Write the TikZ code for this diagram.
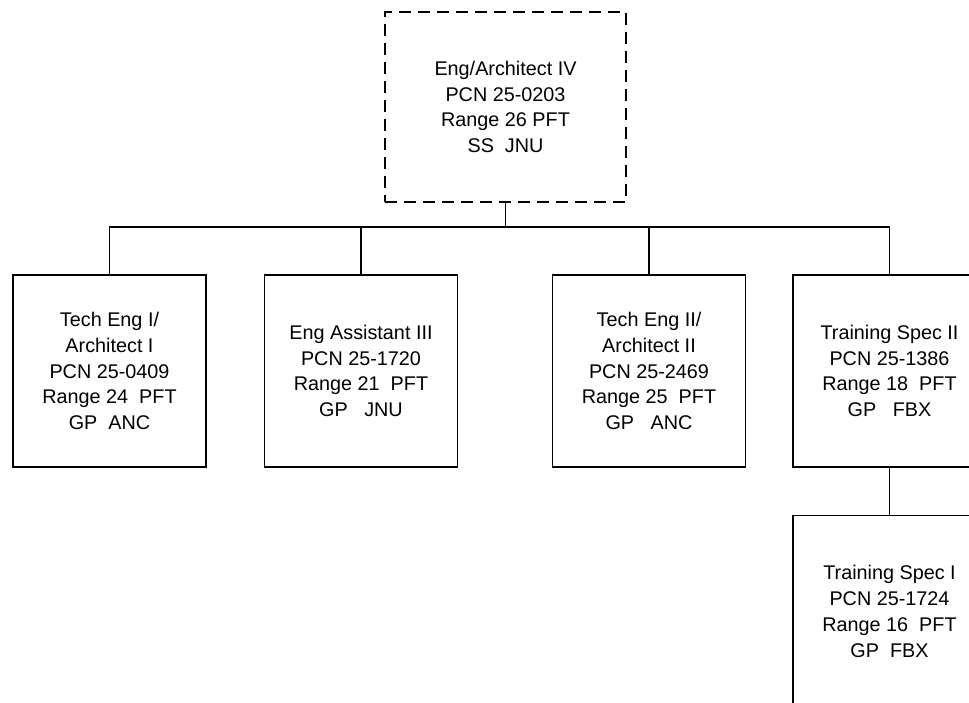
\documentclass[tikz,border=0pt]{standalone}
\usepackage{fontspec}
\setmainfont{Liberation Sans}
\begin{document}
\begin{tikzpicture}[x=1pt,y=-1pt,
  posbox/.style={draw=black, line width=1.9pt, rectangle, align=center,
    minimum width=193pt, minimum height=192pt, inner sep=0pt,
    font=\fontsize{19.8}{25.8}\selectfont},
  headbox/.style={posbox, dashed, dash pattern=on 12pt off 7pt,
    minimum width=241pt, minimum height=190pt},
  link/.style={draw=black, line width=1.9pt}]
\useasboundingbox (0,0) rectangle (969,703);
\clip (0,0) rectangle (969,703);
\node[headbox] (top) at (505.5,107) {Eng/Architect IV\\PCN 25-0203\\Range 26 PFT\\SS~~JNU};
\node[posbox] (b1) at (109.5,371) {Tech Eng I/\\Architect I\\PCN 25-0409\\Range 24~~PFT\\GP~~ANC};
\node[posbox] (b2) at (361,371) {Eng Assistant III\\PCN 25-1720\\Range 21~~PFT\\GP~~~JNU};
\node[posbox] (b3) at (649,371) {Tech Eng II/\\Architect II\\PCN 25-2469\\Range 25~~PFT\\GP~~~ANC};
\node[posbox] (b4) at (889.5,371) {Training Spec II\\PCN 25-1386\\Range 18~~PFT\\GP~~~FBX};
\node[posbox] (b5) at (889.5,611.5) {Training Spec I\\PCN 25-1724\\Range 16~~PFT\\GP~~FBX};
\coordinate (bus) at (505.5,227);
\draw[link] (top.south) -- (bus);
\foreach \n in {b1,b2,b3,b4} \draw[link] (bus) -| (\n.north);
\draw[link] (b4.south) -- (b5.north);
\end{tikzpicture}
\end{document}
